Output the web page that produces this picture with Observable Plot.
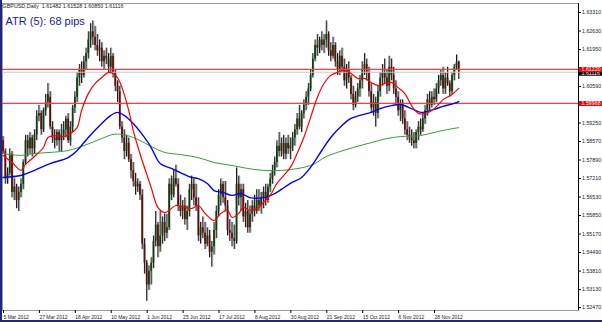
<!DOCTYPE html>
<html><head><meta charset="utf-8">
<script src="https://cdn.jsdelivr.net/npm/d3@7"></script>
<script src="https://cdn.jsdelivr.net/npm/@observablehq/plot@0.6"></script>
<style>
body{margin:0;background:#fff}
#wrap{position:relative;width:602px;height:322px;overflow:hidden}
#edge{position:absolute;left:0;top:0;width:600px;height:320px;border-left:2px solid #25257a;border-bottom:2px solid #25257a;pointer-events:none}
svg{display:block}
</style>
</head><body><div id="wrap"></div>
<script>
// Daily GBPUSD bars, 5 Mar 2012 .. 13 Dec 2012
const opens = [
1.5860,1.5820,1.5720,1.5740,1.5810,1.5670,1.5690,1.5640,1.5670,1.5700,
1.5780,1.5860,1.5830,1.5870,1.5830,1.5880,1.5950,1.5960,1.5900,1.5970,
1.6000,1.6020,1.5910,1.5870,1.5860,1.5890,1.5860,1.5880,1.5900,1.5940,
1.5860,1.5910,1.5980,1.6020,1.6090,1.6120,1.6100,1.6150,1.6180,1.6230,
1.6260,1.6240,1.6210,1.6190,1.6200,1.6150,1.6170,1.6160,1.6130,1.6170,
1.6110,1.6060,1.6040,1.5910,1.5870,1.5820,1.5850,1.5790,1.5750,1.5710,
1.5690,1.5700,1.5660,1.5480,1.5410,1.5330,1.5380,1.5410,1.5490,1.5550,
1.5470,1.5510,1.5560,1.5520,1.5540,1.5700,1.5660,1.5720,1.5700,1.5620,
1.5600,1.5620,1.5570,1.5600,1.5680,1.5700,1.5650,1.5620,1.5510,1.5540,
1.5520,1.5480,1.5510,1.5450,1.5470,1.5530,1.5600,1.5660,1.5700,1.5650,
1.5620,1.5530,1.5520,1.5500,1.5490,1.5700,1.5650,1.5680,1.5580,1.5600,
1.5540,1.5590,1.5620,1.5600,1.5640,1.5620,1.5650,1.5670,1.5640,1.5690,
1.5720,1.5750,1.5780,1.5840,1.5820,1.5850,1.5810,1.5850,1.5830,1.5840,
1.5870,1.5900,1.5940,1.5910,1.5960,1.5990,1.6020,1.6050,1.6100,1.6160,
1.6210,1.6200,1.6230,1.6210,1.6230,1.6250,1.6190,1.6170,1.6210,1.6150,
1.6120,1.6170,1.6130,1.6080,1.6120,1.6090,1.6030,1.5990,1.6020,1.6050,
1.6080,1.6120,1.6140,1.6110,1.6040,1.5980,1.6000,1.5960,1.6040,1.6090,
1.6110,1.6090,1.6060,1.6130,1.6100,1.6050,1.6020,1.5970,1.5990,1.5940,
1.5900,1.5880,1.5870,1.5860,1.5850,1.5890,1.5910,1.5900,1.5940,1.5970,
1.6010,1.5990,1.6020,1.6010,1.6050,1.6080,1.6100,1.6050,1.6090,1.6070,
1.6040,1.6100,1.6130,1.61482];
const highs = [
1.5875,1.5830,1.5760,1.5830,1.5820,1.5720,1.5700,1.5690,1.5720,1.5790,
1.5880,1.5880,1.5890,1.5880,1.5900,1.5970,1.5990,1.5970,1.5980,1.6030,
1.6070,1.6040,1.5930,1.5900,1.5900,1.5900,1.5920,1.5930,1.5950,1.5960,
1.5930,1.5990,1.6040,1.6110,1.6140,1.6150,1.6170,1.6200,1.6260,1.6290,
1.6300,1.6280,1.6250,1.6230,1.6220,1.6190,1.6200,1.6180,1.6200,1.6180,
1.6120,1.6080,1.6060,1.5930,1.5900,1.5880,1.5870,1.5810,1.5780,1.5740,
1.5720,1.5710,1.5680,1.5500,1.5420,1.5400,1.5430,1.5510,1.5600,1.5560,
1.5600,1.5580,1.5590,1.5590,1.5720,1.5730,1.5750,1.5770,1.5720,1.5660,
1.5640,1.5650,1.5620,1.5700,1.5730,1.5720,1.5700,1.5650,1.5560,1.5580,
1.5560,1.5540,1.5530,1.5490,1.5560,1.5620,1.5680,1.5720,1.5710,1.5710,
1.5640,1.5570,1.5560,1.5550,1.5760,1.5730,1.5700,1.5700,1.5630,1.5640,
1.5620,1.5640,1.5660,1.5680,1.5680,1.5670,1.5690,1.5700,1.5700,1.5740,
1.5770,1.5800,1.5860,1.5890,1.5870,1.5880,1.5870,1.5880,1.5870,1.5890,
1.5920,1.5960,1.5990,1.5970,1.6010,1.6040,1.6070,1.6120,1.6180,1.6230,
1.6250,1.6240,1.6260,1.6250,1.6300,1.6260,1.6220,1.6240,1.6220,1.6180,
1.6190,1.6200,1.6160,1.6140,1.6150,1.6100,1.6060,1.6040,1.6070,1.6100,
1.6150,1.6180,1.6160,1.6130,1.6070,1.6030,1.6020,1.6060,1.6110,1.6140,
1.6160,1.6120,1.6170,1.6160,1.6130,1.6080,1.6040,1.6010,1.6010,1.5970,
1.5930,1.5910,1.5900,1.5890,1.5900,1.5930,1.5940,1.5960,1.5990,1.6030,
1.6040,1.6040,1.6050,1.6070,1.6100,1.6120,1.6130,1.6110,1.6130,1.6080,
1.6110,1.6140,1.6175,1.61528];
const lows = [
1.5810,1.5700,1.5700,1.5730,1.5650,1.5640,1.5610,1.5600,1.5650,1.5680,
1.5770,1.5800,1.5810,1.5800,1.5810,1.5860,1.5930,1.5880,1.5890,1.5950,
1.5980,1.5900,1.5850,1.5830,1.5840,1.5820,1.5820,1.5860,1.5870,1.5850,
1.5840,1.5890,1.5960,1.6000,1.6060,1.6070,1.6090,1.6120,1.6160,1.6200,
1.6210,1.6190,1.6170,1.6150,1.6130,1.6120,1.6140,1.6110,1.6110,1.6090,
1.6040,1.6000,1.5900,1.5850,1.5790,1.5800,1.5780,1.5720,1.5690,1.5660,
1.5670,1.5640,1.5460,1.5370,1.5270,1.5310,1.5330,1.5390,1.5470,1.5430,
1.5450,1.5480,1.5490,1.5500,1.5530,1.5640,1.5650,1.5690,1.5600,1.5580,
1.5570,1.5550,1.5530,1.5580,1.5640,1.5620,1.5600,1.5490,1.5480,1.5500,
1.5460,1.5470,1.5430,1.5395,1.5440,1.5500,1.5580,1.5620,1.5630,1.5600,
1.5510,1.5490,1.5470,1.5460,1.5480,1.5620,1.5600,1.5560,1.5540,1.5520,
1.5520,1.5560,1.5580,1.5590,1.5600,1.5590,1.5610,1.5620,1.5630,1.5670,
1.5700,1.5730,1.5760,1.5800,1.5800,1.5790,1.5790,1.5810,1.5790,1.5820,
1.5840,1.5880,1.5900,1.5890,1.5940,1.5970,1.5990,1.6040,1.6090,1.6150,
1.6170,1.6180,1.6190,1.6180,1.6200,1.6170,1.6150,1.6160,1.6130,1.6100,
1.6100,1.6110,1.6060,1.6050,1.6070,1.6010,1.5970,1.5980,1.6000,1.6020,
1.6050,1.6100,1.6080,1.6020,1.5960,1.5950,1.5910,1.5940,1.6020,1.6060,
1.6070,1.6030,1.6040,1.6080,1.6030,1.5990,1.5950,1.5930,1.5920,1.5880,
1.5860,1.5850,1.5840,1.5830,1.5830,1.5860,1.5880,1.5890,1.5920,1.5950,
1.5970,1.5980,1.5990,1.6000,1.6030,1.6060,1.6030,1.6030,1.6060,1.6020,
1.6030,1.6080,1.6120,1.60850];
const closes = [
1.5820,1.5720,1.5740,1.5810,1.5670,1.5690,1.5640,1.5670,1.5700,1.5780,
1.5860,1.5830,1.5870,1.5830,1.5880,1.5950,1.5960,1.5900,1.5970,1.6000,
1.6030,1.5910,1.5870,1.5860,1.5890,1.5860,1.5880,1.5900,1.5940,1.5860,
1.5910,1.5980,1.6020,1.6090,1.6120,1.6100,1.6150,1.6180,1.6230,1.6260,
1.6240,1.6210,1.6190,1.6200,1.6150,1.6170,1.6160,1.6130,1.6170,1.6110,
1.6060,1.6040,1.5910,1.5870,1.5820,1.5850,1.5790,1.5750,1.5710,1.5690,
1.5700,1.5660,1.5480,1.5410,1.5330,1.5380,1.5410,1.5490,1.5550,1.5470,
1.5510,1.5560,1.5520,1.5540,1.5700,1.5660,1.5720,1.5700,1.5620,1.5600,
1.5620,1.5570,1.5600,1.5680,1.5700,1.5650,1.5620,1.5510,1.5540,1.5520,
1.5480,1.5510,1.5450,1.5470,1.5530,1.5600,1.5660,1.5700,1.5650,1.5620,
1.5530,1.5520,1.5500,1.5490,1.5700,1.5650,1.5680,1.5580,1.5600,1.5540,
1.5590,1.5620,1.5600,1.5640,1.5620,1.5650,1.5670,1.5640,1.5690,1.5720,
1.5750,1.5780,1.5840,1.5820,1.5850,1.5810,1.5850,1.5830,1.5840,1.5870,
1.5900,1.5940,1.5910,1.5960,1.5990,1.6020,1.6050,1.6100,1.6160,1.6210,
1.6200,1.6230,1.6210,1.6230,1.6250,1.6190,1.6170,1.6210,1.6150,1.6120,
1.6170,1.6130,1.6080,1.6120,1.6090,1.6030,1.5990,1.6020,1.6050,1.6080,
1.6120,1.6140,1.6110,1.6040,1.5980,1.6000,1.5960,1.6040,1.6090,1.6110,
1.6090,1.6060,1.6130,1.6100,1.6050,1.6020,1.5970,1.5990,1.5940,1.5900,
1.5880,1.5870,1.5860,1.5850,1.5890,1.5910,1.5900,1.5940,1.5970,1.6010,
1.5990,1.6020,1.6010,1.6050,1.6080,1.6100,1.6050,1.6090,1.6070,1.6040,
1.6100,1.6130,1.6148,1.61116];

// Moving averages, read at sample bars
const redIdx = [0,4,8,10,14,18,20,24,27,30,33,35,38,41,44,47,49,51,53,56,58,61,66,69,72,74,77,81,84,87,90,94,97,100,102,105,107,110,114,116,119,122,125,128,131,134,137,140,143,146,149,152,155,158,161,164,167,170,173,176,179,182,185,188,191,194,196,200,203];
const redVal = [1.5806,1.5780,1.5751,1.5773,1.5802,1.5835,1.5872,1.5879,1.5875,1.5886,1.5908,1.5971,1.6033,1.6070,1.6092,1.6111,1.6107,1.6092,1.6055,1.5971,1.5898,1.5813,1.5688,1.5615,1.5596,1.5604,1.5622,1.5615,1.5611,1.5622,1.5593,1.5567,1.5593,1.5604,1.5578,1.5593,1.5615,1.5604,1.5615,1.5633,1.5659,1.5703,1.5732,1.5762,1.5813,1.5872,1.5945,1.6019,1.6070,1.6100,1.6111,1.6118,1.6107,1.6089,1.6089,1.6074,1.6063,1.6070,1.6074,1.6055,1.6033,1.5989,1.5960,1.5960,1.5971,1.5993,1.6011,1.6030,1.6052];
const blueIdx = [0,8,14,21,29,33,38,44,48,51,54,58,63,66,70,75,79,84,87,91,94,98,102,106,110,116,121,124,128,133,137,142,146,151,155,159,164,168,173,177,182,186,192,196,201,203];
const blueVal = [1.5725,1.5732,1.5751,1.5776,1.5798,1.5824,1.5872,1.5923,1.5953,1.5964,1.5953,1.5923,1.5872,1.5835,1.5776,1.5758,1.5743,1.5725,1.5721,1.5703,1.5677,1.5670,1.5659,1.5666,1.5651,1.5651,1.5666,1.5681,1.5703,1.5725,1.5762,1.5824,1.5872,1.5916,1.5942,1.5953,1.5964,1.5978,1.5989,1.5993,1.5978,1.5964,1.5975,1.5986,1.5997,1.6004];
const greenIdx = [0,8,14,21,29,36,44,49,53,58,61,66,72,79,87,94,102,109,116,124,128,134,139,143,149,156,164,171,177,186,192,198,203];
const greenVal = [1.5813,1.5806,1.5813,1.5817,1.5824,1.5842,1.5868,1.5883,1.5883,1.5872,1.5861,1.5839,1.5817,1.5809,1.5798,1.5780,1.5769,1.5758,1.5751,1.5751,1.5754,1.5762,1.5776,1.5798,1.5817,1.5835,1.5853,1.5868,1.5875,1.5879,1.5890,1.5901,1.5908];

// Horizontal levels
const redLevels = [1.61220, 1.59968];
const bidLevel = [1.61116];

// Axis ticks
const priceTicks = [1.63310,1.62630,1.61950,1.60590,1.59250,1.58570,1.57890,1.57210,1.56530,1.55850,1.55170,1.54490,1.53810,1.53130,1.52470];
const dateTickIdx = [0,16,32,48,64,80,96,112,128,144,160,176,192];
const dateTickLabels = ["5 Mar 2012","27 Mar 2012","18 Apr 2012","10 May 2012","1 Jun 2012","25 Jun 2012","17 Jul 2012","8 Aug 2012","30 Aug 2012","21 Sep 2012","15 Oct 2012","6 Nov 2012","28 Nov 2012"];

const titleText = "GBPUSD,Daily  1.61482 1.61528 1.60850 1.61116";
const atrText = "ATR (5): 68 pips";

const bars = d3.range(closes.length);
const pts = (idx, val) => idx.map((i, k) => ({i, v: val[k]}));
const font = "'Liberation Sans', Arial, sans-serif";

const chart = Plot.plot({
  width: 602, height: 322,
  marginLeft: 2, marginRight: 24, marginTop: 3, marginBottom: 12,
  style: {background: "#fff", fontFamily: font, overflow: "hidden"},
  x: {domain: [-0.2227, 256.35]},
  y: {domain: [1.523621, 1.636406]},
  color: {type: "identity"},
  marks: [
    Plot.frame({stroke: "#9c9c9c", shapeRendering: "crispEdges"}),
    // candles
    Plot.ruleX(bars, {x: i => i, y1: i => lows[i], y2: i => highs[i], stroke: "#b8b8b8", dx: 1}),
    Plot.ruleX(bars, {x: i => i, y1: i => lows[i], y2: i => highs[i], stroke: "#151515"}),
    Plot.ruleX(bars, {x: i => i, y1: i => opens[i], y2: i => closes[i],
      stroke: i => closes[i] >= opens[i] ? "#0d3f0d" : "#5e0c0c", strokeWidth: 1.7}),
    // horizontal levels
    Plot.ruleY(bidLevel, {y: d => d, stroke: "#c6c6c6", strokeWidth: 1}),
    Plot.ruleY(redLevels, {y: d => d, stroke: "#ff3b3b", strokeWidth: 1.2}),
    // moving averages
    Plot.line(pts(greenIdx, greenVal), {x: "i", y: "v", stroke: "#3a9a3a", strokeWidth: 1, curve: "catmull-rom"}),
    Plot.line(pts(blueIdx, blueVal), {x: "i", y: "v", stroke: "#0000ff", strokeWidth: 1.4, curve: "catmull-rom"}),
    Plot.line(pts(redIdx, redVal), {x: "i", y: "v", stroke: "#ff0000", strokeWidth: 1.2, curve: "catmull-rom"}),
    // right border
    Plot.ruleX([256.35], {stroke: "#000", shapeRendering: "crispEdges"}),
    // axes
    Plot.axisY({anchor: "right", ticks: priceTicks, tickFormat: d => d.toFixed(5), tickSize: 2, tickPadding: 1.5,
      fontSize: 5.3, fontFamily: font, fill: "#222", label: null}),
    Plot.axisX({anchor: "bottom", ticks: dateTickIdx, tickFormat: d => dateTickLabels[dateTickIdx.indexOf(d)],
      tickSize: 3, tickPadding: 1.5, textAnchor: "start", dx: 0.5, fontSize: 5, fontFamily: font, fill: "#222", label: null}),
    // price labels for levels
    Plot.ruleY(bidLevel, {y: d => d, dx: 577, dy: 1, stroke: "#000", strokeWidth: 5}),
    Plot.text(bidLevel, {y: d => d, text: d => d.toFixed(5), frameAnchor: "right", textAnchor: "start", dx: 3, dy: 1.5, fill: "#fff", fontSize: 5.3, fontFamily: font}),
    Plot.ruleY(redLevels, {y: d => d, dx: 577, stroke: "#ff0000", strokeWidth: 5}),
    Plot.text(redLevels, {y: d => d, text: d => d.toFixed(5), frameAnchor: "right", textAnchor: "start", dx: 3, fill: "#fff", fontSize: 5.3, fontFamily: font}),
    // titles
    Plot.text([titleText], {text: d => d, frameAnchor: "top-left", lineAnchor: "top", dx: 0, dy: 0.5, fontSize: 5.4, fill: "#222", fontFamily: font}),
    Plot.text([atrText], {text: d => d, frameAnchor: "top-left", lineAnchor: "top", dx: 3, dy: 13.5, fontSize: 11, fill: "#1818a0", fontFamily: font})
  ]
});
const wrap = document.getElementById("wrap");
wrap.appendChild(chart);
const edge = document.createElement("div");
edge.id = "edge";
wrap.appendChild(edge);
</script>
</body></html>
